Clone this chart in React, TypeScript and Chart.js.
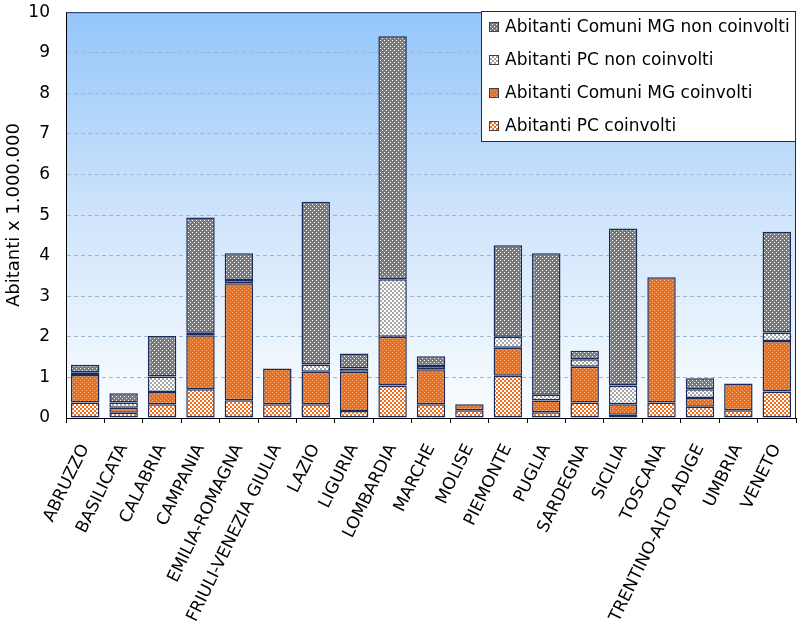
import React, { useEffect, useRef } from 'react';
import { Chart, registerables } from 'chart.js';

Chart.register(...registerables);

const categories = [
  'ABRUZZO', 'BASILICATA', 'CALABRIA', 'CAMPANIA', 'EMILIA-ROMAGNA',
  'FRIULI-VENEZIA GIULIA', 'LAZIO', 'LIGURIA', 'LOMBARDIA', 'MARCHE',
  'MOLISE', 'PIEMONTE', 'PUGLIA', 'SARDEGNA', 'SICILIA', 'TOSCANA',
  'TRENTINO-ALTO ADIGE', 'UMBRIA', 'VENETO',
];

const pcCoinvolti = [0.38, 0.13, 0.34, 0.71, 0.44, 0.34, 0.34, 0.17, 0.80, 0.34, 0.19, 1.04, 0.14, 0.38, 0.08, 0.38, 0.28, 0.19, 0.65];
const mgCoinvolti = [0.68, 0.12, 0.30, 1.33, 2.88, 0.88, 0.80, 0.97, 1.20, 0.86, 0.15, 0.69, 0.29, 0.88, 0.26, 3.09, 0.21, 0.66, 1.25];
const pcNonCoinvolti = [0.07, 0.13, 0.38, 0.06, 0.08, null, 0.18, 0.08, 1.42, 0.08, null, 0.27, 0.14, 0.19, 0.46, null, 0.22, null, 0.21];
const mgNonCoinvolti = [0.18, 0.23, 1.00, 2.84, 0.66, null, 4.01, 0.37, 5.99, 0.24, null, 2.26, 3.49, 0.21, 3.87, null, 0.27, null, 2.48];

const seriesLabels = [
  'Abitanti PC coinvolti',
  'Abitanti Comuni MG coinvolti',
  'Abitanti PC non coinvolti',
  'Abitanti Comuni MG non coinvolti',
];

const yTicks = [0, 1, 2, 3, 4, 5, 6, 7, 8, 9, 10];

const NAVY = '#1b2c5a';
const FONT = '"DejaVu Sans", Verdana, sans-serif';

function makeDots(bg: string, dot: string): CanvasPattern {
  const c = document.createElement('canvas');
  c.width = 4; c.height = 4;
  const g = c.getContext('2d')!;
  g.fillStyle = bg; g.fillRect(0, 0, 4, 4);
  g.fillStyle = dot;
  g.fillRect(0, 0, 1, 1);
  g.fillRect(2, 2, 1, 1);
  return g.createPattern(c, 'repeat')!;
}

function makeChecker(a: string, b: string, cell: number): CanvasPattern {
  const c = document.createElement('canvas');
  c.width = cell * 2; c.height = cell * 2;
  const g = c.getContext('2d')!;
  g.fillStyle = a; g.fillRect(0, 0, cell * 2, cell * 2);
  g.fillStyle = b;
  g.fillRect(0, 0, cell, cell);
  g.fillRect(cell, cell, cell, cell);
  return g.createPattern(c, 'repeat')!;
}

const backgroundPlugin = {
  id: 'plotBackground',
  beforeDraw(chart: any) {
    const { ctx, chartArea } = chart;
    const { left, top, right, bottom } = chartArea;
    ctx.save();
    const grad = ctx.createLinearGradient(0, top, 0, bottom);
    grad.addColorStop(0, '#94c6fa');
    grad.addColorStop(0.5, '#cfe4fb');
    grad.addColorStop(1, '#fbfdff');
    ctx.fillStyle = grad;
    ctx.fillRect(left, top, right - left, bottom - top);
    ctx.restore();
  },
  beforeDatasetsDraw(chart: any) {
    const { ctx, chartArea } = chart;
    const { left, top, right, bottom } = chartArea;
    ctx.save();
    ctx.strokeStyle = NAVY;
    ctx.lineWidth = 1;
    ctx.beginPath();
    ctx.moveTo(left, top + 0.5);
    ctx.lineTo(right - 0.5, top + 0.5);
    ctx.lineTo(right - 0.5, bottom);
    ctx.stroke();
    ctx.restore();
  },
};

const legendPlugin = {
  id: 'boxLegend',
  afterDraw(chart: any) {
    const ctx = chart.ctx;
    ctx.save();
    const x = 481.5, y = 11.5, w = 314, h = 130;
    ctx.fillStyle = '#ffffff';
    ctx.fillRect(x, y, w, h);
    ctx.strokeStyle = NAVY;
    ctx.lineWidth = 1;
    ctx.strokeRect(x, y, w, h);
    const items = [...chart.data.datasets].reverse();
    items.forEach((ds: any, i: number) => {
      const cy = 27 + i * 33;
      ctx.fillStyle = ds.backgroundColor;
      ctx.fillRect(489, cy - 5, 10, 10);
      ctx.strokeStyle = '#404040';
      ctx.strokeRect(489.5, cy - 4.5, 9, 9);
      ctx.fillStyle = '#000000';
      ctx.font = `17px ${FONT}`;
      ctx.textBaseline = 'middle';
      ctx.textAlign = 'left';
      ctx.fillText(ds.label, 505, cy + 1);
    });
    ctx.restore();
  },
};

export default function App() {
  const ref = useRef<HTMLCanvasElement>(null);

  useEffect(() => {
    if (!ref.current) return;
    const patPC = makeChecker('#ffffff', '#f07020', 2);
    const patMG = makeDots('#ee6c1c', '#f9b27a');
    const patPCnon = makeChecker('#ffffff', '#a8a8a8', 2);
    const patMGnon = makeDots('#7a7a7a', '#ffffff');
    const fills = [patPC, patMG, patPCnon, patMGnon];
    const values = [pcCoinvolti, mgCoinvolti, pcNonCoinvolti, mgNonCoinvolti];

    const chart = new Chart(ref.current, {
      type: 'bar',
      data: {
        labels: categories,
        datasets: values.map((v, i) => ({
          label: seriesLabels[i],
          data: v as any,
          backgroundColor: fills[i] as any,
          borderColor: NAVY,
          borderWidth: 1.5,
          borderSkipped: false,
          barPercentage: 0.74,
          categoryPercentage: 1.0,
        })),
      },
      options: {
        responsive: false,
        animation: false,
        layout: { padding: { top: 0, right: 6, left: 0, bottom: 0 } },
        plugins: {
          legend: { display: false },
          title: { display: false },
          tooltip: { enabled: false },
        },
        scales: {
          x: {
            stacked: true,
            grid: {
              offset: true,
              drawOnChartArea: false,
              drawTicks: true,
              tickLength: 5,
              color: '#000000',
            },
            border: { color: '#000000', width: 1 },
            ticks: {
              autoSkip: false,
              maxRotation: 64,
              minRotation: 64,
              color: '#000000',
              font: { family: FONT, size: 17 },
              padding: 18,
            },
            afterFit(scale: any) {
              scale.height = 218;
              scale.paddingLeft = 0;
              scale.paddingRight = 0;
            },
          },
          y: {
            stacked: true,
            min: 0,
            max: 10,
            afterBuildTicks(scale: any) {
              scale.ticks = yTicks.map((v) => ({ value: v }));
            },
            grid: {
              drawTicks: true,
              tickLength: 14,
              tickColor: 'rgba(0,0,0,0)',
              color: (c: any) => (c.tick && (c.tick.value === 0 || c.tick.value === 10) ? 'rgba(0,0,0,0)' : '#9fb6cf'),
              lineWidth: 1,
            },
            border: { color: '#000000', width: 1, dash: [4, 3] },
            ticks: {
              color: '#000000',
              font: { family: FONT, size: 17 },
              padding: 2,
            },
            title: {
              display: true,
              text: 'Abitanti x 1.000.000',
              color: '#000000',
              font: { family: FONT, size: 18 },
              padding: { top: 4, bottom: 0 },
            },
            afterFit(scale: any) {
              scale.width = 66;
            },
          },
        },
      },
      plugins: [backgroundPlugin, legendPlugin],
    });
    return () => chart.destroy();
  }, []);

  return (
    <div style={{ position: 'absolute', left: 0, top: 0, width: 802, height: 636, background: '#ffffff' }}>
      <canvas ref={ref} width={802} height={636} style={{ display: 'block' }} />
    </div>
  );
}
